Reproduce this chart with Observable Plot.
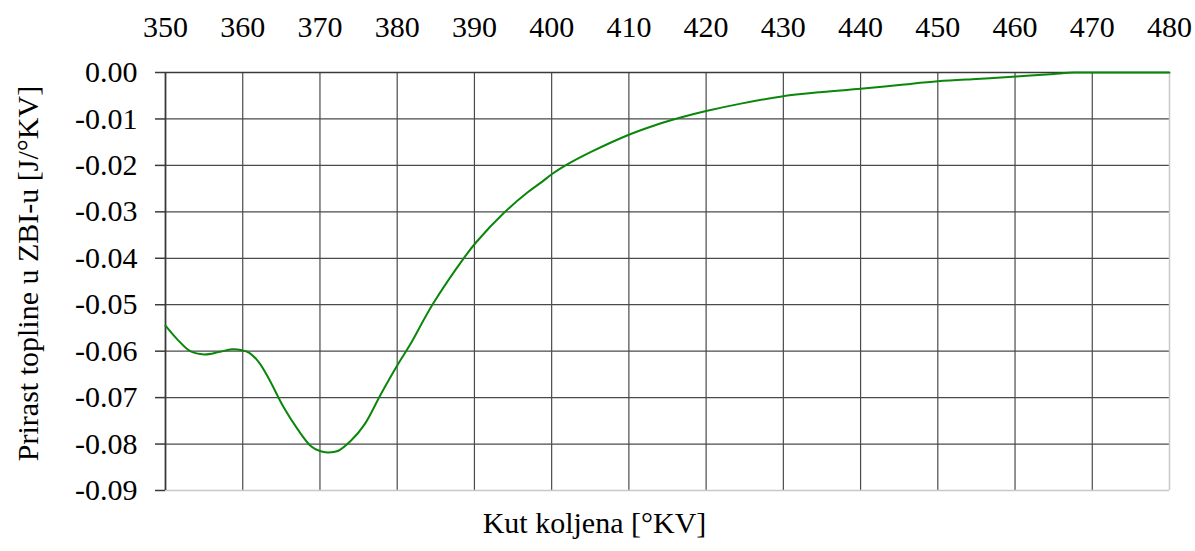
<!DOCTYPE html>
<html>
<head>
<meta charset="utf-8">
<script src="https://cdn.jsdelivr.net/npm/d3@7"></script>
<script src="https://cdn.jsdelivr.net/npm/@observablehq/plot@0.6"></script>
<style>
  html, body { margin: 0; padding: 0; background: #fff; }
</style>
</head>
<body>
<div id="chart"></div>
<script>
const angle = [350, 351.5, 353.2, 355.0, 356.9, 358.6, 359.9, 360.8, 362.1, 363.4, 365.3, 367.1, 368.8, 370.0, 371.0, 372.3, 374.0, 375.8, 377.9, 380.1, 381.6, 384.6, 388.7, 390.2, 393.9, 396.9, 398.7, 400.1, 401.8, 405.1, 410.0, 413.3, 416.7, 420.0, 424.5, 429.6, 435, 440, 445, 450, 455, 458.2, 462.5, 465, 467.7, 470, 475, 480];
const heat = [-0.0545, -0.0574, -0.0600, -0.0607, -0.0602, -0.0596, -0.0598, -0.0603, -0.0624, -0.0660, -0.0721, -0.0768, -0.0804, -0.0815, -0.0818, -0.0815, -0.0793, -0.0757, -0.0692, -0.0628, -0.0588, -0.0499, -0.0398, -0.0366, -0.0301, -0.0258, -0.0236, -0.0218, -0.0200, -0.0171, -0.0134, -0.0114, -0.0097, -0.0083, -0.0067, -0.0052, -0.0042, -0.0035, -0.0027, -0.0019, -0.0014, -0.0011, -0.0006, -0.0003, 0, 0, 0, 0];
const xTicks = [350, 360, 370, 380, 390, 400, 410, 420, 430, 440, 450, 460, 470, 480];
const yTicks = [0, -0.01, -0.02, -0.03, -0.04, -0.05, -0.06, -0.07, -0.08, -0.09];
const xLabel = "Kut koljena [°KV]";
const yLabel = "Prirast topline u ZBI-u [J/°KV]";

const data = angle.map((a, i) => ({angle: a, heat: heat[i]}));
const innerX = xTicks.filter(t => t > 350 && t < 480);
const innerY = yTicks.filter(t => t < 0 && t > -0.09);

const chart = Plot.plot({
  width: 1195,
  height: 551,
  marginLeft: 165,
  marginRight: 26,
  marginTop: 72,
  marginBottom: 61,
  style: {fontFamily: "'Liberation Serif', 'Times New Roman', serif", fontSize: "30px", color: "#000", background: "#fff"},
  x: {domain: [350, 480], axis: null},
  y: {domain: [-0.09, 0], axis: null},
  marks: [
    Plot.ruleX(innerX, {stroke: "#4a4a4a", strokeWidth: 1.2}),
    Plot.ruleY(innerY, {stroke: "#4a4a4a", strokeWidth: 1.2}),
    Plot.ruleX([480], {stroke: "#c8c8c8", strokeWidth: 1.5}),
    Plot.ruleY([-0.09], {stroke: "#c8c8c8", strokeWidth: 1.5}),
    Plot.ruleY([0], {stroke: "#3a3a3a", strokeWidth: 1.5}),
    Plot.ruleX([350], {stroke: "#3a3a3a", strokeWidth: 1.8}),
    Plot.axisY({ticks: yTicks, tickSize: 10, tickPadding: 18, tickFormat: d => d.toFixed(2), stroke: "#3a3a3a", strokeWidth: 1.5, fontSize: 30, label: null}),
    Plot.axisX({anchor: "top", ticks: xTicks, tickSize: 0, tickPadding: 36, tickFormat: d => String(d), fontSize: 30, label: null}),
    Plot.line(data, {x: "angle", y: "heat", stroke: "#0a870a", strokeWidth: 2, curve: "catmull-rom"}),
    Plot.text([xLabel], {frameAnchor: "bottom", dy: 42, dx: -73, fontSize: 30, fill: "#000"}),
    Plot.text([yLabel], {frameAnchor: "left", textAnchor: "middle", rotate: -90, dx: -137, dy: -8, fontSize: 30, fill: "#000"})
  ]
});
document.getElementById("chart").appendChild(chart);
</script>
</body>
</html>
